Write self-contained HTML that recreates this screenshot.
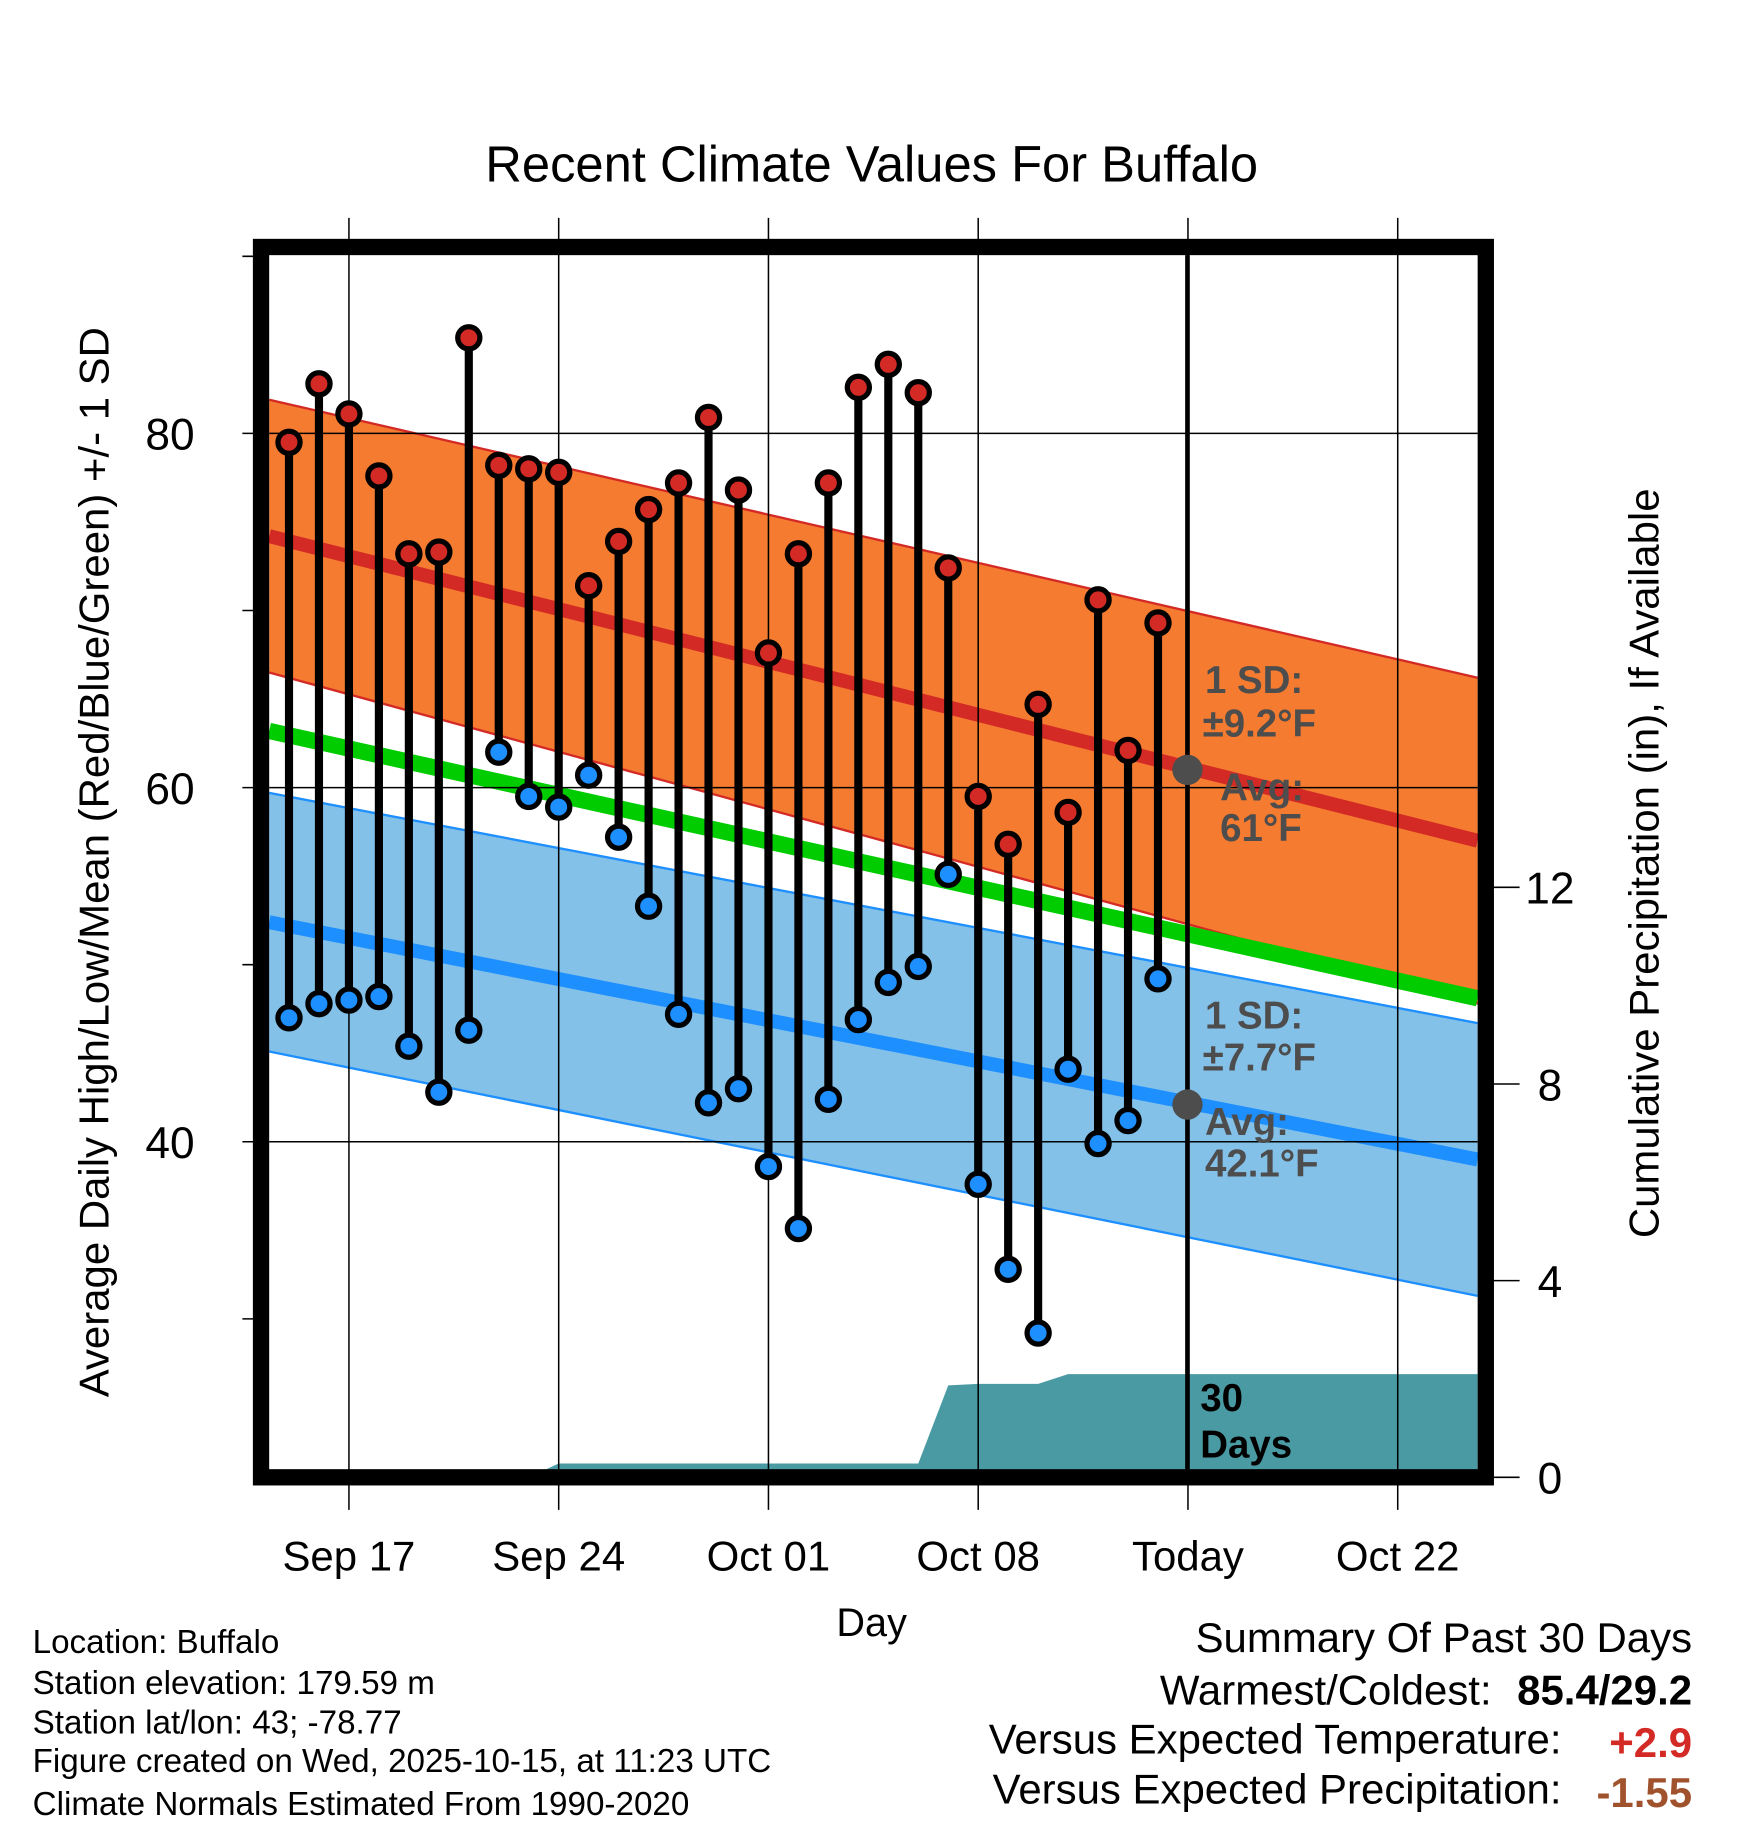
<!DOCTYPE html>
<html><head><meta charset="utf-8"><style>
html,body{margin:0;padding:0;background:#fff;}
svg{display:block;font-family:"Liberation Sans",Arial,sans-serif;}
</style></head><body>
<svg id="chart" width="1748" height="1828" viewBox="0 0 1500 1569" preserveAspectRatio="none" xmlns="http://www.w3.org/2000/svg">
<text x="748" y="156" font-size="43.5" text-anchor="middle">Recent Climate Values For Buffalo</text>
<g id="plot"></g>
<text transform="translate(93,740) rotate(-90)" font-size="36" text-anchor="middle">Average Daily High/Low/Mean (Red/Blue/Green) +/- 1 SD</text>
<text transform="translate(1423,741) rotate(-90)" font-size="36" text-anchor="middle">Cumulative Precipitation (in), If Available</text>
<text x="748" y="1404" font-size="34" text-anchor="middle">Day</text>
<g font-size="28.5">
<text x="28" y="1419">Location: Buffalo</text>
<text x="28" y="1454">Station elevation: 179.59 m</text>
<text x="28" y="1488">Station lat/lon: 43; -78.77</text>
<text x="28" y="1521">Figure created on Wed, 2025-10-15, at 11:23 UTC</text>
<text x="28" y="1558">Climate Normals Estimated From 1990-2020</text>
</g>
<g font-size="36" text-anchor="end">
<text x="1452" y="1418">Summary Of Past 30 Days</text>
<text x="1280" y="1463">Warmest/Coldest:</text>
<text x="1452" y="1463" font-weight="bold">85.4/29.2</text>
<text x="1340" y="1505">Versus Expected Temperature:</text>
<text x="1452" y="1508" font-weight="bold" fill="#d42a25">+2.9</text>
<text x="1340" y="1548">Versus Expected Precipitation:</text>
<text x="1452" y="1551" font-weight="bold" fill="#a0522d">-1.55</text>
</g>
</svg>
<script>
const days = ["Sep15","Sep16","Sep17","Sep18","Sep19","Sep20","Sep21","Sep22","Sep23","Sep24","Sep25","Sep26","Sep27","Sep28","Sep29","Sep30","Oct01","Oct02","Oct03","Oct04","Oct05","Oct06","Oct07","Oct08","Oct09","Oct10","Oct11","Oct12","Oct13","Oct14"];
const highs = [79.5,82.8,81.1,77.6,73.2,73.3,85.4,78.2,78.0,77.8,71.4,73.9,75.7,77.2,80.9,76.8,67.6,73.2,77.2,82.6,83.9,82.3,72.4,59.5,56.8,64.7,58.6,70.6,62.1,69.3];
const lows = [47.0,47.8,48.0,48.2,45.4,42.8,46.3,62.0,59.5,58.9,60.7,57.2,53.3,47.2,42.2,43.0,38.6,35.1,42.4,46.9,49.0,49.9,55.1,37.6,32.8,29.2,44.1,39.9,41.2,49.2];
const precipCum = [0,0,0,0,0,0,0,0,0,0.28,0.28,0.28,0.28,0.28,0.28,0.28,0.28,0.28,0.28,0.28,0.28,0.28,1.87,1.9,1.9,1.9,2.1,2.1,2.1,2.1];
const normHighAvg = [74.2, 57.0];
const normHighSD = [7.7, 9.2];
const normMean = [63.2, 48.1];
const normLowAvg = [52.4, 39.0];
const normLowSD = [7.3, 7.7];
const yTicks = [40,60,80];
const yMinor = [30,50,70,90];
const y2Ticks = [0,4,8,12];
const xTickDays = [2,9,16,23,30,37];
const xTickLabels = ["Sep 17","Sep 24","Oct 01","Oct 08","Today","Oct 22"];

const X0=231,X1=1268,Y0=219,Y1=1261;
const xs = d => 248 + d*25.714;
const ys = v => 372 + (80-v)*15.2;
const yp = v => 1268 - v*42.2;
const NS="http://www.w3.org/2000/svg";
const plot=document.getElementById('plot');
function mk(tag,attrs,parent){const e=document.createElementNS(NS,tag);for(const k in attrs)e.setAttribute(k,attrs[k]);(parent||plot).appendChild(e);return e;}
function band(a,sd,fill,stroke,name){
  const p=mk('polygon',{points:`${X0},${ys(a[0]+sd[0])} ${X1},${ys(a[1]+sd[1])} ${X1},${ys(a[1]-sd[1])} ${X0},${ys(a[0]-sd[0])}`,fill:fill});
  
  
  [1,-1].forEach(s=>{mk('line',{x1:X0,y1:ys(a[0]+s*sd[0]),x2:X1,y2:ys(a[1]+s*sd[1]),stroke:stroke,'stroke-width':2});});
}
function line(a,color,w,name){
  const l=mk('line',{x1:X0,y1:ys(a[0]),x2:X1,y2:ys(a[1]),stroke:color,'stroke-width':w});
  
  
}
band(normLowAvg,normLowSD,'#84c1e8','#1e8fff','low-sd-band');
band(normHighAvg,normHighSD,'#f47b30','#d42a25','high-sd-band');
line(normMean,'#00cc00',14,'mean-normal-line');
line(normHighAvg,'#d42a25',12,'high-normal-line');
line(normLowAvg,'#1e8fff',12,'low-normal-line');
let pts=`${X0},${yp(0)} `;
precipCum.forEach((v,i)=>{pts+=`${xs(i)},${yp(v)} `;});
pts+=`${X1},${yp(precipCum[precipCum.length-1])} ${X1},${yp(0)}`;
const pa=mk('polygon',{points:pts,fill:'#4a9aa4'});


yTicks.forEach(v=>{
  const g=mk('line',{x1:X0,y1:ys(v),x2:X1,y2:ys(v),stroke:'#000','stroke-width':1.3});
  
  
  mk('line',{x1:208,y1:ys(v),x2:224,y2:ys(v),stroke:'#000','stroke-width':1.3});
  const t=mk('text',{x:167,y:ys(v)+14,'font-size':38,'text-anchor':'end'});t.textContent=v;
  
  
});
yMinor.forEach(v=>{mk('line',{x1:208,y1:ys(v),x2:224,y2:ys(v),stroke:'#000','stroke-width':1.3});});
y2Ticks.forEach(v=>{
  mk('line',{x1:1275,y1:yp(v),x2:1304,y2:yp(v),stroke:'#000','stroke-width':1.3});
  const t=mk('text',{x:1330,y:yp(v)+14,'font-size':38,'text-anchor':'middle'});t.textContent=v;
  
  
});
xTickDays.forEach((d,i)=>{
  const g=mk('line',{x1:xs(d),y1:187,x2:xs(d),y2:1296,stroke:'#000','stroke-width':1.3});
  
  
  const t=mk('text',{x:xs(d),y:1348,'font-size':36,'text-anchor':'middle'});t.textContent=xTickLabels[i];
  
  
});
const tl=mk('line',{x1:1019,y1:219,x2:1019,y2:1261,stroke:'#000','stroke-width':4});


days.forEach((d,i)=>{
  const s=mk('line',{x1:xs(i),y1:ys(highs[i]),x2:xs(i),y2:ys(lows[i]),stroke:'#000','stroke-width':7});
  
  
});
days.forEach((d,i)=>{
  const h=mk('circle',{cx:xs(i),cy:ys(highs[i]),r:9.5,fill:'#d42a25',stroke:'#000','stroke-width':4.5});
  
  
  const l=mk('circle',{cx:xs(i),cy:ys(lows[i]),r:9.5,fill:'#1e8fff',stroke:'#000','stroke-width':4.5});
  
  
});
[[61,'today-high-normal-dot'],[42.1,'today-low-normal-dot']].forEach(a=>{
  const c=mk('circle',{cx:1019,cy:ys(a[0]),r:13,fill:'#4d4d4d'});
  
  
});
function lab(x,y,txt,fill,name,size){
  const t=mk('text',{x:x,y:y,'font-size':size||33,'font-weight':'bold',fill:fill});t.textContent=txt;
  
  
}
lab(1034,595,'1 SD:','#4d4d4d','high-sd-label');
lab(1032,632,'±9.2°F','#4d4d4d','high-sd-value');
lab(1047,687,'Avg:','#4d4d4d','high-avg-label');
lab(1047,722,'61°F','#4d4d4d','high-avg-value');
lab(1034,883,'1 SD:','#4d4d4d','low-sd-label');
lab(1032,919,'±7.7°F','#4d4d4d','low-sd-value');
lab(1034,974,'Avg:','#4d4d4d','low-avg-label');
lab(1034,1010,'42.1°F','#4d4d4d','low-avg-value');
lab(1030,1211,'30','#000','precip-days-label');
lab(1030,1251,'Days','#000','precip-days-label2');
const fr=mk('rect',{x:224,y:212,width:1051,height:1056,fill:'none',stroke:'#000','stroke-width':14});


</script>
</body></html>
